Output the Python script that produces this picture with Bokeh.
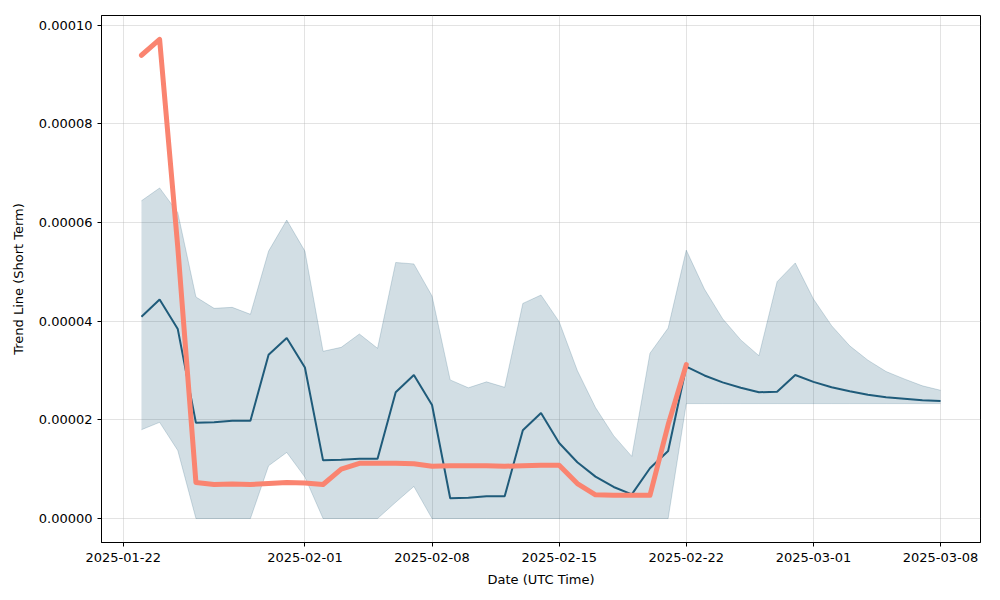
import pandas as pd
from datetime import timedelta
from bokeh.plotting import figure
from bokeh.models import FixedTicker, DatetimeTickFormatter, PrintfTickFormatter, Range1d
from bokeh.embed import file_html
from bokeh.resources import INLINE

# ---- data ----
start_date = "2025-01-23"
n_days = 45
trend = [4.09e-5, 4.44e-5, 3.84e-5, 1.94e-5, 1.95e-5, 1.98e-5, 1.98e-5, 3.32e-5, 3.66e-5, 3.06e-5,
         1.18e-5, 1.19e-5, 1.21e-5, 1.21e-5, 2.56e-5, 2.91e-5, 2.30e-5, 4.1e-6, 4.2e-6, 4.5e-6,
         4.5e-6, 1.79e-5, 2.14e-5, 1.53e-5, 1.14e-5, 8.5e-6, 6.4e-6, 4.9e-6, 1.02e-5, 1.37e-5,
         3.08e-5, 2.90e-5, 2.76e-5, 2.65e-5, 2.56e-5, 2.57e-5, 2.91e-5, 2.77e-5, 2.66e-5, 2.58e-5,
         2.51e-5, 2.46e-5, 2.43e-5, 2.40e-5, 2.38e-5]
upper = [6.44e-5, 6.70e-5, 6.20e-5, 4.49e-5, 4.26e-5, 4.28e-5, 4.14e-5, 5.42e-5, 6.05e-5, 5.42e-5,
         3.39e-5, 3.47e-5, 3.74e-5, 3.45e-5, 5.19e-5, 5.16e-5, 4.51e-5, 2.81e-5, 2.65e-5, 2.77e-5,
         2.66e-5, 4.36e-5, 4.53e-5, 3.99e-5, 3.00e-5, 2.25e-5, 1.68e-5, 1.26e-5, 3.35e-5, 3.86e-5,
         5.44e-5, 4.65e-5, 4.05e-5, 3.62e-5, 3.30e-5, 4.80e-5, 5.18e-5, 4.45e-5, 3.91e-5, 3.50e-5,
         3.21e-5, 2.98e-5, 2.83e-5, 2.69e-5, 2.60e-5]
lower = [1.80e-5, 1.95e-5, 1.38e-5, 0.0, 0.0, 0.0, 0.0, 1.07e-5, 1.34e-5, 8.4e-6,
         0.0, 0.0, 0.0, 0.0, 3.3e-6, 6.5e-6, 0.0, 0.0, 0.0, 0.0,
         0.0, 0.0, 0.0, 0.0, 0.0, 0.0, 0.0, 0.0, 0.0, 0.0,
         2.33e-5, 2.33e-5, 2.33e-5, 2.33e-5, 2.33e-5, 2.33e-5, 2.33e-5, 2.33e-5, 2.33e-5, 2.33e-5,
         2.33e-5, 2.33e-5, 2.33e-5, 2.33e-5, 2.33e-5]
short_trend = [9.39e-5, 9.71e-5, 5.50e-5, 7.3e-6, 6.9e-6, 7.0e-6, 6.9e-6, 7.1e-6, 7.3e-6, 7.2e-6,
               6.9e-6, 1.00e-5, 1.12e-5, 1.12e-5, 1.12e-5, 1.11e-5, 1.06e-5, 1.07e-5, 1.07e-5, 1.07e-5,
               1.06e-5, 1.07e-5, 1.08e-5, 1.08e-5, 7.1e-6, 4.8e-6, 4.7e-6, 4.7e-6, 4.7e-6, 1.90e-5,
               3.12e-5]
x_tick_dates = ["2025-01-22", "2025-02-01", "2025-02-08", "2025-02-15", "2025-02-22", "2025-03-01", "2025-03-08"]
y_tick_values = [0.0, 2e-5, 4e-5, 6e-5, 8e-5, 1e-4]

dates = pd.date_range(start_date, periods=n_days, freq="D")
short_dates = dates[:len(short_trend)]

# ---- ranges (matplotlib-like 5% margins) ----
span = dates[-1] - dates[0]
pad = span * 0.05
x_start = (dates[0] - pad).to_pydatetime()
x_end = (dates[-1] + pad).to_pydatetime()
ymax_data = max(max(upper), max(short_trend))
ymin_data = 0.0
ypad = (ymax_data - ymin_data) * 0.05

p = figure(width=1000, height=600, x_axis_type="datetime",
           output_backend="svg", toolbar_location=None,
           x_range=Range1d(x_start, x_end),
           y_range=Range1d(ymin_data - ypad, ymax_data + ypad),
           min_border_left=101, min_border_right=20,
           min_border_top=15, min_border_bottom=58)
p.background_fill_color = "white"
p.border_fill_color = "white"
p.outline_line_color = "black"
p.outline_line_width = 1
p.outline_line_alpha = 1

band_color = "#1f5b7a"
p.varea(x=dates, y1=lower, y2=upper, fill_color=band_color, fill_alpha=0.2)
p.line(dates, upper, line_color=band_color, line_alpha=0.2, line_width=1)
p.line(dates, lower, line_color=band_color, line_alpha=0.2, line_width=1)
p.line(dates, trend, line_color=band_color, line_width=2)
p.line(short_dates, short_trend, line_color="#fa8470", line_width=5,
       line_join="round", line_cap="round")

# ---- axes ----
tick_ms = [pd.Timestamp(d).value // 10**6 for d in x_tick_dates]
xt = FixedTicker(ticks=tick_ms)
p.xaxis.ticker = xt
p.xgrid.ticker = xt
fmt = "%Y-%m-%d"
p.xaxis.formatter = DatetimeTickFormatter(milliseconds=fmt, seconds=fmt, minsec=fmt, minutes=fmt,
                                          hourmin=fmt, hours=fmt, days=fmt, months=fmt, years=fmt)
yt = FixedTicker(ticks=y_tick_values)
p.yaxis.ticker = yt
p.ygrid.ticker = yt
p.yaxis.formatter = PrintfTickFormatter(format="%.5f")

p.xaxis.axis_label = "Date (UTC Time)"
p.yaxis.axis_label = "Trend Line (Short Term)"
for ax in (p.xaxis, p.yaxis):
    ax.axis_label_text_font = "DejaVu Sans"
    ax.axis_label_text_font_size = "13px"
    ax.axis_label_text_font_style = "normal"
    ax.axis_label_text_color = "black"
    ax.major_label_text_font = "DejaVu Sans"
    ax.major_label_text_font_size = "13px"
    ax.major_label_text_color = "black"
    ax.axis_line_color = "black"
    ax.major_tick_line_color = "black"
    ax.major_tick_in = 0
    ax.major_tick_out = 4
    ax.minor_tick_line_color = None
p.xaxis.major_label_standoff = 6
p.xaxis.axis_label_standoff = 7
p.yaxis.major_label_standoff = 5
p.yaxis.axis_label_standoff = 10

p.grid.grid_line_color = "#b0b0b0"
p.grid.grid_line_alpha = 0.35
p.grid.grid_line_width = 1

open("out.html", "w").write(file_html(p, INLINE))
